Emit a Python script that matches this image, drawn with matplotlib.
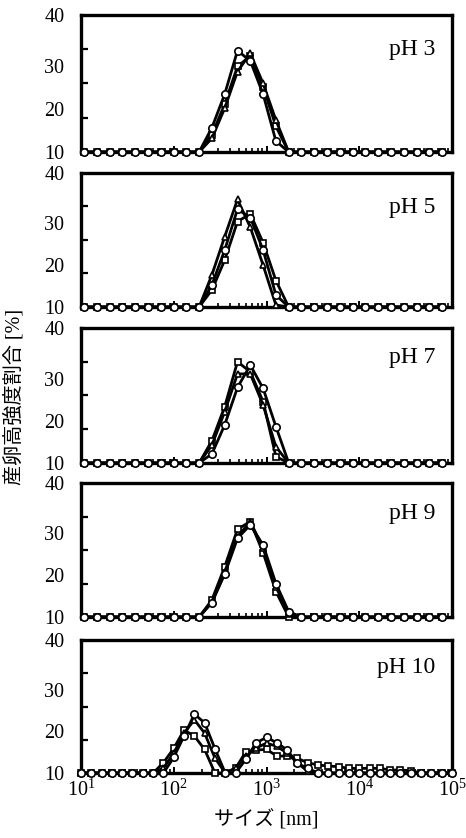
import matplotlib
matplotlib.use('Agg')
import matplotlib.pyplot as plt
from matplotlib.ticker import LogLocator, NullFormatter, FixedLocator

plt.rcParams['font.family'] = ['Liberation Serif', 'Noto Sans CJK JP']
plt.rcParams['mathtext.fontset'] = 'custom'
plt.rcParams['mathtext.rm'] = 'Liberation Serif'
plt.rcParams['mathtext.it'] = 'Liberation Serif:italic'

# size bins [nm] for pH 3-9 (about 7 per decade)
sizes_a = [10.8, 14.8, 20.3, 27.9, 38.3, 52.7, 72.4, 99.4, 136.6, 187.7,
           257.9, 354.3, 486.8, 668.9, 919, 1263, 1735, 2384, 3275, 4500,
           6183, 8495, 11672, 16037, 22035, 30276, 41599, 57156, 78532]

# size bins [nm] for pH 10 (9 per decade)
sizes_b = [10, 12.9, 16.7, 21.5, 27.8, 35.9, 46.4, 59.9, 77.4, 100,
           129, 167, 215, 278, 359, 464, 599, 774, 1000, 1292,
           1668, 2154, 2783, 3594, 4642, 5995, 7743, 10000, 12915, 16681,
           21544, 27826, 35938, 46416, 59948, 77426, 100000]

z10 = [0] * 10
z12 = [0] * 12

ph3_sq = z10 + [5.0, 14.0, 25.0, 28.0, 19.0, 7.5] + [0] * 13
ph3_tri = z10 + [4.0, 12.8, 23.5, 28.8, 20.0, 9.3] + [0] * 13
ph3_circ = z10 + [7.1, 16.9, 29.6, 26.6, 16.9, 3.2] + [0] * 13

ph5_sq = z10 + [5.1, 14.0, 25.5, 27.8, 19.2, 7.9] + [0] * 13
ph5_tri = z10 + [9.6, 21.0, 32.1, 23.8, 12.5, 0.6] + [0] * 13
ph5_circ = z10 + [6.6, 17.0, 29.2, 26.7, 17.0, 3.6] + [0] * 13

ph7_sq = z10 + [6.6, 16.7, 30.0, 27.0, 18.2, 1.9] + [0] * 13
ph7_tri = z10 + [5.3, 15.2, 26.4, 26.4, 17.2, 4.8] + [0] * 13
ph7_circ = z10 + [2.7, 11.3, 22.4, 29.0, 22.1, 10.8] + [0] * 13

ph9_sq = z10 + [5.1, 15.0, 26.2, 28.5, 19.2, 7.6, 0] + z12
ph9_tri = z10 + [4.5, 13.5, 24.0, 28.5, 20.5, 9.0, 1.0] + z12
ph9_circ = z10 + [4.3, 12.8, 23.5, 27.5, 21.5, 10.0, 1.6] + z12

ph10_sq = [0] * 8 + [3.1, 7.4, 12.9, 11.1, 7.1, 0, 0, 1.4, 6.4, 6.9, 7.1, 5.1,
                     5.1, 4.4, 3.1, 2.4, 2.1, 1.9, 1.4, 1.4, 1.4, 1.4, 0.9, 0.9,
                     0.7] + [0] * 4
ph10_tri = [0] * 8 + [1.5, 6.0, 12.0, 16.0, 12.0, 4.5, 0, 1.5, 5.0, 7.5, 9.0, 8.0,
                      6.0, 3.0, 0.5] + [0] * 14
ph10_circ = [0] * 9 + [4.7, 11.1, 17.7, 15.1, 7.3, 0, 0, 4.1, 9.1, 10.7, 9.1,
                       6.9, 2.9, 1.4] + [0] * 14

panel_labels = ['pH 3', 'pH 5', 'pH 7', 'pH 9', 'pH 10']
panels = [
    (sizes_a, ph3_sq, ph3_tri, ph3_circ),
    (sizes_a, ph5_sq, ph5_tri, ph5_circ),
    (sizes_a, ph7_sq, ph7_tri, ph7_circ),
    (sizes_a, ph9_sq, ph9_tri, ph9_circ),
    (sizes_b, ph10_sq, ph10_tri, ph10_circ),
]

ytick_pos = [0, 12.5, 25, 40]
ytick_lab = ['10', '20', '30', '40']
xtick_pos = [1e1, 1e2, 1e3, 1e4, 1e5]
xtick_lab = ['$10^{1}$', '$10^{2}$', '$10^{3}$', '$10^{4}$', '$10^{5}$']

# panel pixel extents (top, bottom) in a 466x838 figure
W, H = 466, 838
px_left, px_right = 81, 452
px_rows = [(15, 152), (173, 307), (328, 463), (483, 617), (640, 773)]
label_y = [0.745, 0.74, 0.78, 0.77, 0.79]

fig = plt.figure(figsize=(W / 100, H / 100), dpi=100)

for i, ((xs, sq, tri, circ), (top, bot)) in enumerate(zip(panels, px_rows)):
    ax = fig.add_axes([px_left / W, 1 - bot / H,
                       (px_right - px_left) / W, (bot - top) / H])
    style = dict(color='black', lw=2.0, markerfacecolor='white',
                 markeredgecolor='black', markeredgewidth=1.2, clip_on=False)
    ax.plot(xs, sq, marker='s', ms=5.0, zorder=3, **style)
    ax.plot(xs, tri, marker='^', ms=5.0, zorder=4, **style)
    ax.plot(xs, circ, marker='o', ms=5.3, zorder=5, **style)

    ax.set_xscale('log')
    ax.set_xlim(10, 1e5)
    ax.set_ylim(0, 40)

    for sp in ax.spines.values():
        sp.set_linewidth(2.4)

    ax.set_yticks(ytick_pos)
    ax.set_yticklabels(ytick_lab, fontsize=14.5)
    ax.yaxis.set_minor_locator(FixedLocator([10, 20, 30]))
    ax.tick_params(axis='y', which='major', length=0, pad=12)
    ax.tick_params(axis='y', which='minor', direction='in', length=5, width=1.6)

    ax.set_xticks(xtick_pos)
    ax.xaxis.set_minor_locator(LogLocator(base=10, subs=range(2, 10)))
    ax.xaxis.set_minor_formatter(NullFormatter())
    ax.tick_params(axis='x', which='major', direction='in', length=4, width=1.4, pad=5)
    ax.tick_params(axis='x', which='minor', direction='in', length=3, width=1.2)
    if i == len(panels) - 1:
        ax.set_xticklabels(xtick_lab, fontsize=14.5)
    else:
        ax.set_xticklabels([])

    ax.text(0.955, label_y[i], panel_labels[i], transform=ax.transAxes,
            ha='right', va='center', fontsize=17)

fig.text(14 / W, 1 - 397 / H, '産卵高強度割合 [%]', rotation=90,
         ha='center', va='center', fontsize=14.5)
fig.text((px_left + px_right) / 2 / W, 1 - 820 / H, 'サイズ [nm]',
         ha='center', va='center', fontsize=14.5)

fig.savefig('out.png', dpi=100)
